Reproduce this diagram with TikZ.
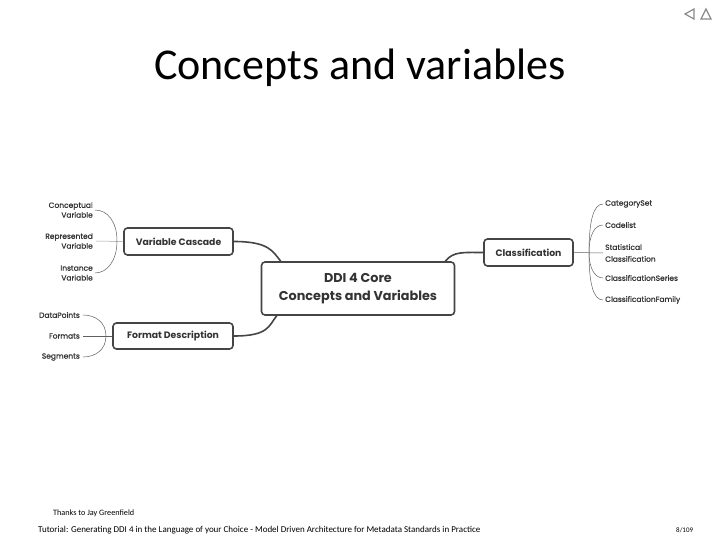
\documentclass[tikz,border=0pt]{standalone}
\usepackage{fontspec}
\setmainfont{Carlito}
\newfontfamily\mm{Poppins}
\newfontfamily\mml[FakeBold=0.7]{Poppins}
\definecolor{boxc}{HTML}{454545}
\definecolor{txt}{HTML}{333333}
\definecolor{lnk}{HTML}{606060}
\definecolor{navc}{HTML}{8A8A8A}
\begin{document}
\begin{tikzpicture}[x=1pt,y=-1pt,
  box/.style={draw=boxc, line width=1.6pt, rounded corners=3.5pt, text=txt, font=\mm\bfseries\fontsize{9.3}{11}\selectfont, inner sep=0pt},
  leafr/.style={anchor=east, align=right, text=txt, font=\mml\fontsize{7.5}{9.8}\selectfont, inner sep=0pt},
  leafl/.style={anchor=west, align=left, text=txt, font=\mml\fontsize{7.5}{11.8}\selectfont, inner sep=0pt},
  main/.style={draw=boxc, line width=1.6pt},
  br/.style={draw=lnk, line width=0.5pt},
  st/.style={draw=lnk!60, line width=0.5pt},
  foot/.style={anchor=west, inner sep=0pt}]
\useasboundingbox (0,0) rectangle (720,540);
\fill[white] (0,0) rectangle (720,540);

% navigation symbols
\draw[navc, line width=1.2pt] (694,9) -- (694,19) -- (685,14) -- cycle;
\draw[navc, line width=1.2pt] (701,19) -- (711,19) -- (706,9) -- cycle;

\node[font=\fontsize{44}{50}\selectfont] (title) at (360,68) {Concepts and variables};

% boxes
\node[box, minimum width=193, minimum height=53, align=center, font=\mm\bfseries\fontsize{12.8}{17.5}\selectfont] (core) at (358,288.5) {DDI 4 Core\\Concepts and Variables};
\node[box, minimum width=109, minimum height=27] (vc) at (178.5,241.5) {Variable Cascade};
\node[box, minimum width=120, minimum height=26] (fd) at (173,336) {Format Description};
\node[box, minimum width=89, minimum height=27] (cl) at (528.5,252.5) {Classification};

% leaves
\node[leafr] (cv) at (93,210) {Conceptual\\Variable};
\node[leafr] (rv) at (93,241) {Represented\\Variable};
\node[leafr] (iv) at (93,273) {Instance\\Variable};
\node[leafr] (dp) at (80,315) {DataPoints};
\node[leafr] (fm) at (80,336) {Formats};
\node[leafr] (sg) at (80,357) {Segments};

\node[leafl] (cs) at (605,204) {CategorySet};
\node[leafl] (co) at (605,225) {Codelist};
\node[leafl] (sc) at (605,253) {Statistical\\Classification};
\node[leafl] (se) at (605,278) {ClassificationSeries};
\node[leafl] (cf) at (605,300) {ClassificationFamily};

\coordinate (jv) at (117,241);
\coordinate (jf) at (106,336);
\coordinate (jc) at (589,252.5);

% main connectors
\draw[main] (vc.east) .. controls +(35,0) and +(-8,-10) .. ([xshift=20]core.north west);
\draw[main] (fd.east) .. controls +(35,0) and +(-8,10) .. ([xshift=16]core.south west);
\draw[main] ([xshift=-10]core.north east) .. controls +(8,-10) and +(-20,0) .. (cl.west);

% left brackets
\draw[st] (vc.west) -- ([xshift=3]rv.east);
\draw[br] (jv) .. controls +(0,-20) and +(12,0) .. ([xshift=2]cv.east);
\draw[br] (jv) .. controls +(0,20) and +(12,0) .. ([xshift=2]iv.east);
\draw[br] (fd.west) -- ([xshift=3]fm.east);
\draw[br] (jf) .. controls +(0,-14) and +(12,0) .. ([xshift=3]dp.east);
\draw[br] (jf) .. controls +(0,14) and +(12,0) .. ([xshift=3]sg.east);

% right brackets
\draw[br] (cl.east) -- ([xshift=-2]sc.west);
\draw[br] (jc) .. controls +(0,-30) and +(-10,0) .. ([xshift=-2]cs.west);
\draw[br] (jc) .. controls +(0,-18) and +(-8,0) .. ([xshift=-2]co.west);
\draw[br] (jc) .. controls +(0,16) and +(-8,0) .. ([xshift=-2]se.west);
\draw[br] (jc) .. controls +(0,30) and +(-10,0) .. ([xshift=-2]cf.west);

% footer
\node[foot, font=\fontsize{8.2}{9}\selectfont] (thx) at (53,513) {Thanks to Jay Greenfield};
\node[foot, font=\fontsize{9}{10}\selectfont] (ft) at (38,530) {Tutorial: Generating DDI 4 in the Language of your Choice - Model Driven Architecture for Metadata Standards in Practice};
\node[foot, font=\fontsize{7}{8}\selectfont] (pg) at (676,530) {8/109};
\end{tikzpicture}
\end{document}
